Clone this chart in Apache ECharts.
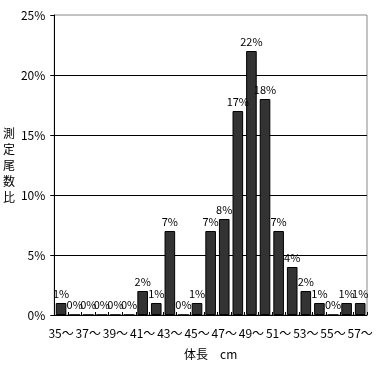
<!DOCTYPE html>
<html>
<head>
<meta charset="utf-8">
<style>html,body{margin:0;padding:0;background:#fff;}#c{width:382px;height:365px;}</style>
<script src="https://cdn.jsdelivr.net/npm/echarts@6/dist/echarts.min.js"></script>
</head>
<body>
<div id="c"></div>
<script>
var categories = ['35～','36～','37～','38～','39～','40～','41～','42～','43～','44～','45～','46～','47～','48～','49～','50～','51～','52～','53～','54～','55～','56～','57～'];
var values = [1,0,0,0,0,0,2,1,7,0,1,7,8,17,22,18,7,4,2,1,0,1,1];
var yTicks = [0,5,10,15,20,25];
var font = '"Noto Sans CJK JP", sans-serif';
var chart = echarts.init(document.getElementById('c'));
chart.setOption({
  animation: false,
  backgroundColor: '#fff',
  grid: {left: 53, right: 15, top: 15, bottom: 45, show: true, borderColor: '#888', borderWidth: 1, backgroundColor: 'transparent'},
  xAxis: {
    type: 'category',
    data: categories,
    name: '体長　cm',
    nameLocation: 'middle',
    nameGap: 33,
    nameTextStyle: {color: '#000', fontSize: 12, fontFamily: font},
    axisLine: {lineStyle: {color: '#000', width: 1}},
    axisTick: {show: true, inside: true, length: 3, interval: 0, lineStyle: {color: '#000'}},
    axisLabel: {interval: 1, color: '#000', fontSize: 12, fontFamily: font, margin: 12}
  },
  yAxis: {
    type: 'value',
    min: yTicks[0],
    max: yTicks[yTicks.length - 1],
    interval: 5,
    name: '測\n定\n尾\n数\n比',
    nameLocation: 'middle',
    nameGap: 39,
    nameRotate: 0,
    nameTextStyle: {color: '#000', fontSize: 12, fontFamily: font, lineHeight: 16},
    axisLine: {show: true, lineStyle: {color: '#000', width: 1}},
    axisTick: {show: true, length: 4, lineStyle: {color: '#000'}},
    axisLabel: {formatter: '{value}%', color: '#000', fontSize: 12, fontFamily: font, margin: 9},
    splitLine: {show: true, showMinLine: false, showMaxLine: false, lineStyle: {color: '#000', width: 1}}
  },
  series: [{
    type: 'bar',
    data: values,
    barCategoryGap: '22%',
    itemStyle: {color: '#333', borderColor: '#000', borderWidth: 1},
    label: {show: true, position: 'top', distance: 4, formatter: '{c}%', color: '#000', fontSize: 11, fontFamily: font}
  }]
});
</script>
</body>
</html>
